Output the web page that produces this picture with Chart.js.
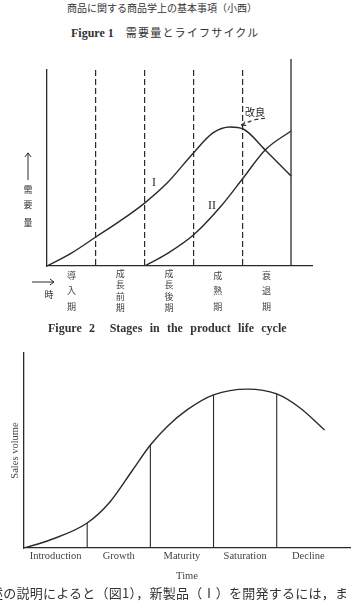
<!DOCTYPE html>
<html>
<head>
<meta charset="utf-8">
<script src="https://cdn.jsdelivr.net/npm/chart.js@4"></script>
<style>
  body { margin: 0; width: 352px; height: 616px; background: #fff; position: relative; overflow: hidden; color: #333; }
  .t { position: absolute; white-space: nowrap; line-height: 1; }
  .jp { font-family: "Noto Sans CJK JP", sans-serif; }
  .fig { font-family: "Liberation Serif", serif; font-weight: bold; }
  canvas { position: absolute; left: 0; }
</style>
</head>
<body>
<div class="t jp" style="left:67px;top:3px;font-size:10px;">商品に関する商品学上の基本事項（小西）</div>
<div class="t" style="left:71px;top:27px;font-size:12px;"><span class="fig">Figure 1</span><span class="jp" style="margin-left:12px;font-size:11px;letter-spacing:1.2px;">需要量とライフサイクル</span></div>
<canvas id="fig1" width="352" height="300" style="top:45px"></canvas>
<canvas id="fig2" width="352" height="250" style="top:340px"></canvas>
<div class="t fig" style="left:48px;top:322px;font-size:12px;word-spacing:4.3px;">Figure 2&nbsp;&nbsp;Stages in the product life cycle</div>
<div class="t jp" style="left:-10px;top:586px;font-size:13px;letter-spacing:0.25px;">述の説明によると（図1），新製品（Ⅰ）を開発するには，ま</div>
<script>
const ink = "#2a2a2a"
const cjk = '"Noto Sans CJK JP", sans-serif'
const serif = '"Liberation Serif", serif'

// Figure 1 data
const stageLabels1 = [["導","入","期"], ["成","長","前","期"], ["成","長","後","期"], ["成","熟","期"], ["衰","退","期"]]
const stageMid1 = [0.5, 1.5, 2.5, 3.5, 4.5]
const stageBounds1 = [1, 2, 3, 4]
const curveIX = [0, 0.5, 1, 1.5, 2, 2.46, 3, 3.4, 3.75, 4.02, 4.47, 5]
const curveIY = [0, 6.6, 14.8, 23.0, 32.1, 42.3, 57.7, 67.9, 70.9, 69.9, 59.2, 45.9]
const curveIIX = [2, 2.48, 3, 3.55, 4.02, 4.47, 5]
const curveIIY = [0, 6.6, 15.8, 30.1, 44.9, 59.2, 68.9]
const improvedX = [3.98, 4.26, 4.53]
const improvedY = [71.9, 74.6, 75.5]
const frameX = 5
const frameTop = 105.6

// Figure 2 data
const stageLabels2 = ["Introduction", "Growth", "Maturity", "Saturation", "Decline"]
const stageMid2 = [0.5, 1.5, 2.5, 3.5, 4.5]
const stageBounds2 = [1, 2, 3, 4]
const salesX = [0, 0.41, 1, 1.36, 1.72, 2, 2.26, 2.58, 3, 3.54, 4, 4.37, 4.76]
const salesY = [0, 4.1, 12.8, 23.6, 40, 52.8, 62.1, 70.8, 78.5, 81.5, 79, 71.8, 60.5]

const pts = (xs, ys) => xs.map((v, i) => ({x: v, y: ys[i]}))

const notes1 = {
    id: "notes1",
    afterDraw(chart) {
        const {ctx, chartArea: a, scales: {x, y}} = chart
        ctx.save()
        ctx.fillStyle = ink
        ctx.strokeStyle = ink
        ctx.lineWidth = 1
        ctx.textAlign = "center"
        ctx.textBaseline = "middle"
        // curve names
        ctx.font = "12px " + serif
        ctx.fillText("I", x.getPixelForValue(2.19), y.getPixelForValue(42.3))
        ctx.fillText("II", x.getPixelForValue(3.38), y.getPixelForValue(30.6))
        ctx.font = "10px " + cjk
        ctx.fillText("改良", x.getPixelForValue(4.26), y.getPixelForValue(78.3))
        // little arrowhead where the improvement leaves curve I
        const hx = x.getPixelForValue(improvedX[0]), hy = y.getPixelForValue(improvedY[0])
        ctx.beginPath()
        ctx.moveTo(hx + 4, hy - 3.5)
        ctx.lineTo(hx, hy)
        ctx.lineTo(hx + 5, hy + 0.5)
        ctx.stroke()
        // demand arrow + label
        const ax = a.left - 19
        const top = y.getPixelForValue(57.7)
        ctx.beginPath()
        ctx.moveTo(ax, y.getPixelForValue(43.9))
        ctx.lineTo(ax, top)
        ctx.moveTo(ax - 3, top + 4)
        ctx.lineTo(ax, top)
        ctx.lineTo(ax + 3, top + 4)
        ctx.stroke()
        ctx.font = "9px " + cjk
        ;[["需", 38.8], ["要", 31.1], ["量", 22.4]].forEach(c => ctx.fillText(c[0], ax, y.getPixelForValue(c[1])))
        // time arrow
        const ty = a.bottom + 16
        ctx.beginPath()
        ctx.moveTo(a.left - 15, ty)
        ctx.lineTo(a.left + 7, ty)
        ctx.moveTo(a.left + 3, ty - 3)
        ctx.lineTo(a.left + 7, ty)
        ctx.lineTo(a.left + 3, ty + 3)
        ctx.stroke()
        ctx.fillText("時", a.left + 2, a.bottom + 29)
        ctx.restore()
    }
}

new Chart("fig1", {
    type: "line",
    data: {
        datasets: [
            {data: pts(curveIX, curveIY), borderColor: ink, borderWidth: 1.4, pointRadius: 0, cubicInterpolationMode: "monotone"},
            {data: pts(curveIIX, curveIIY), borderColor: ink, borderWidth: 1.4, pointRadius: 0, cubicInterpolationMode: "monotone"},
            {data: pts(improvedX, improvedY), borderColor: ink, borderWidth: 1.2, borderDash: [4, 3], pointRadius: 0, tension: 0.4},
            {data: [{x: frameX, y: 0}, {x: frameX, y: frameTop}], borderColor: ink, borderWidth: 1.3, pointRadius: 0, clip: false}
        ]
    },
    options: {
        responsive: false,
        animation: false,
        devicePixelRatio: 1,
        layout: {padding: {top: 25, left: 47, right: 40, bottom: 0}},
        plugins: {legend: {display: false}, tooltip: {enabled: false}},
        scales: {
            x: {
                type: "linear", min: 0, max: 5.43,
                afterBuildTicks: s => { s.ticks = stageMid1.map(v => ({value: v})) },
                afterFit: s => { s.height = 79 },
                grid: {display: false, drawTicks: false},
                border: {color: ink, width: 1.3},
                ticks: {
                    autoSkip: false, maxRotation: 0, padding: 2, color: "#444",
                    callback: (v, i) => stageLabels1[i],
                    font: c => {
                        const l = stageLabels1[c.index]
                        return {family: cjk, size: 9, lineHeight: l && l.length > 3 ? 1.25 : 1.7}
                    }
                }
            },
            xb: {
                type: "linear", position: "bottom", min: 0, max: 5.43,
                afterBuildTicks: s => { s.ticks = stageBounds1.map(v => ({value: v})) },
                afterFit: s => { s.height = 0 },
                grid: {display: true, drawTicks: false, color: ink, lineWidth: 1.2},
                border: {display: false, dash: [6, 3]},
                ticks: {display: false}
            },
            y: {
                min: 0, max: 100,
                afterFit: s => { s.width = 0 },
                grid: {display: false, drawTicks: false},
                border: {color: ink, width: 1.3},
                ticks: {display: false}
            }
        }
    },
    plugins: [notes1]
})

const stageLines2 = []
stageBounds2.forEach(b => {
    stageLines2.push({x: b, y: 0}, {x: b, y: salesY[salesX.indexOf(b)]}, {x: b, y: null})
})

new Chart("fig2", {
    type: "line",
    data: {
        datasets: [
            {data: pts(salesX, salesY), borderColor: ink, borderWidth: 1.4, pointRadius: 0, cubicInterpolationMode: "monotone"},
            {data: stageLines2, borderColor: ink, borderWidth: 1.1, pointRadius: 0, spanGaps: false}
        ]
    },
    options: {
        responsive: false,
        animation: false,
        devicePixelRatio: 1,
        layout: {padding: {top: 13, left: 0, right: 2, bottom: 0}},
        plugins: {legend: {display: false}, tooltip: {enabled: false}},
        scales: {
            x: {
                type: "linear", min: 0, max: 5.16,
                afterBuildTicks: s => { s.ticks = stageMid2.map(v => ({value: v})) },
                afterFit: s => { s.height = 42 },
                grid: {display: false, drawTicks: false},
                border: {color: ink, width: 1.3},
                ticks: {autoSkip: false, maxRotation: 0, padding: 2, color: "#444", font: {family: serif, size: 10.5},
                    callback: (v, i) => stageLabels2[i]},
                title: {display: true, text: "Time", color: "#444", font: {family: serif, size: 10.5}, padding: {top: 0, bottom: 7}}
            },
            y: {
                min: 0, max: 100,
                afterFit: s => { s.width = 24 },
                grid: {display: false, drawTicks: false},
                border: {color: ink, width: 1.3},
                ticks: {display: false},
                title: {display: true, text: "Sales volume", color: "#444", font: {family: serif, size: 10.5}, padding: {top: 9, bottom: 0}}
            }
        }
    }
})
</script>
</body>
</html>
